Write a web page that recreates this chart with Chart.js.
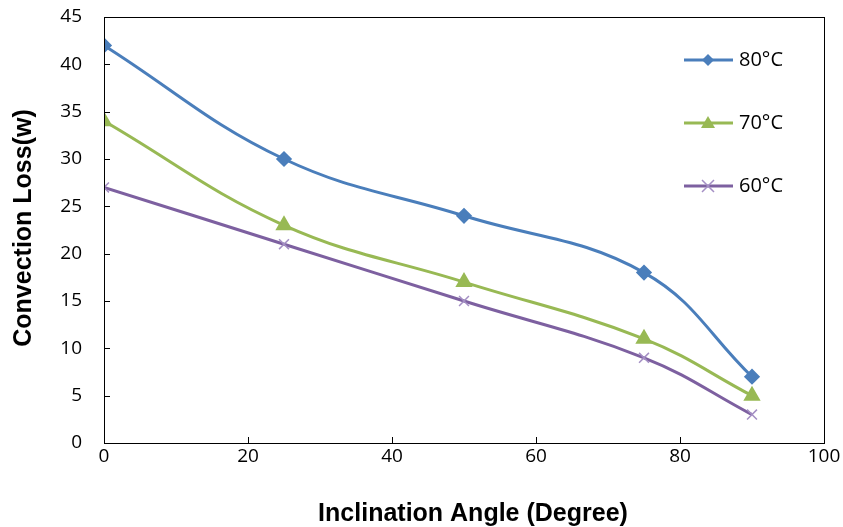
<!DOCTYPE html>
<html>
<head>
<meta charset="utf-8">
<script src="https://cdn.jsdelivr.net/npm/chart.js@4"></script>
<style>
  html, body { margin: 0; padding: 0; background: #fff; }
  #wrap { width: 843px; height: 527px; }
</style>
</head>
<body>
<div id="wrap"><canvas id="grafico" width="843" height="527"></canvas></div>
<script>
const angulos = [0, 25, 50, 75, 90];
const perda80 = [42, 30, 24, 18, 7];
const perda70 = [34, 23, 17, 11, 5];
const perda60 = [27, 21, 15, 9, 3];
const rotulos = ['80°C', '70°C', '60°C'];
const ticksX = [0, 20, 40, 60, 80, 100];
const ticksY = [0, 5, 10, 15, 20, 25, 30, 35, 40, 45];
const tituloX = 'Inclination Angle (Degree)';
const tituloY = 'Convection Loss(w)';

const cores = ['#4a7ebb', '#98b954', '#7d60a0'];
const fonteTick = { family: "'Open Sans', 'Noto Sans', sans-serif", size: 19 };

function pontos(ys) {
    return angulos.map((x, i) => ({ x: x, y: ys[i] }));
}

// desenha marcador simples (legenda)
function marcador(ctx, tipo, x, y, cor) {
    ctx.save();
    ctx.fillStyle = cor;
    ctx.strokeStyle = cor;
    ctx.beginPath();
    if (tipo === 'rectRot') {
        ctx.moveTo(x, y - 6); ctx.lineTo(x + 6, y); ctx.lineTo(x, y + 6); ctx.lineTo(x - 6, y);
        ctx.closePath(); ctx.fill();
    } else if (tipo === 'triangle') {
        ctx.moveTo(x, y - 7); ctx.lineTo(x + 7, y + 5); ctx.lineTo(x - 7, y + 5);
        ctx.closePath(); ctx.fill();
    } else {
        ctx.lineWidth = 1.5;
        ctx.moveTo(x - 6, y - 6); ctx.lineTo(x + 6, y + 6);
        ctx.moveTo(x + 6, y - 6); ctx.lineTo(x - 6, y + 6);
        ctx.stroke();
    }
    ctx.restore();
}

const molduraPlugin = {
    id: 'moldura',
    afterDraw(chart) {
        const { ctx, chartArea: a, scales } = chart;
        ctx.save();
        ctx.strokeStyle = '#000';
        ctx.lineWidth = 1;
        ctx.strokeRect(a.left + 0.5, a.top + 0.5, a.right - a.left, a.bottom - a.top);
        ctx.beginPath();
        scales.x.ticks.forEach(t => {
            const px = Math.round(scales.x.getPixelForValue(t.value)) + 0.5;
            ctx.moveTo(px, a.bottom); ctx.lineTo(px, a.bottom - 6);
        });
        scales.y.ticks.forEach(t => {
            const py = Math.round(scales.y.getPixelForValue(t.value)) + 0.5;
            ctx.moveTo(a.left, py); ctx.lineTo(a.left + 6, py);
        });
        ctx.stroke();

        // titulos dos eixos
        ctx.fillStyle = '#000';
        ctx.textAlign = 'center';
        ctx.textBaseline = 'middle';
        ctx.font = "bold 25px 'Liberation Sans', Arial, sans-serif";
        ctx.fillText(tituloX, 473, 514);
        ctx.save();
        ctx.translate(24, 228);
        ctx.rotate(-Math.PI / 2);
        ctx.font = "bold 25px 'Liberation Sans', Arial, sans-serif";
        ctx.fillText(tituloY, 0, 0);
        ctx.restore();

        // legenda dentro da área
        const tipos = ['rectRot', 'triangle', 'crossRot'];
        const ys = [60, 123, 186];
        ctx.font = "20px 'Open Sans', 'Noto Sans', sans-serif";
        ctx.textAlign = 'left';
        chart.data.datasets.forEach((ds, i) => {
            ctx.strokeStyle = ds.borderColor;
            ctx.lineWidth = 3;
            ctx.beginPath();
            ctx.moveTo(684, ys[i]); ctx.lineTo(733, ys[i]);
            ctx.stroke();
            marcador(ctx, tipos[i], 708, ys[i], ds.pointBorderColor || ds.borderColor);
            ctx.fillStyle = '#000';
            ctx.fillText(ds.label, 739, ys[i]);
        });
        ctx.restore();
    }
};

const ctx = document.getElementById('grafico');
new Chart(ctx, {
    type: 'line',
    data: {
        datasets: [
            { label: rotulos[0], data: pontos(perda80), borderColor: cores[0], backgroundColor: cores[0],
              pointStyle: 'rectRot', pointRadius: 6, borderWidth: 3, tension: 0.4 },
            { label: rotulos[1], data: pontos(perda70), borderColor: cores[1], backgroundColor: cores[1],
              pointStyle: 'triangle', pointRadius: 7, borderWidth: 3, tension: 0.4 },
            { label: rotulos[2], data: pontos(perda60), borderColor: cores[2], backgroundColor: cores[2],
              pointBorderColor: '#a48fc4', pointBorderWidth: 1.5,
              pointStyle: 'crossRot', pointRadius: 7, borderWidth: 3, tension: 0.4 }
        ]
    },
    options: {
        responsive: false,
        animation: false,
        layout: { padding: { top: 17, right: 19, left: 0, bottom: 0 } },
        plugins: { legend: { display: false }, tooltip: { enabled: false } },
        scales: {
            x: {
                type: 'linear', min: 0, max: 100,
                afterBuildTicks: s => { s.ticks = ticksX.map(v => ({ value: v })); },
                afterFit: s => { s.height = 84; s.paddingLeft = 0; s.paddingRight = 0; },
                grid: { display: false, drawTicks: false },
                border: { display: false },
                ticks: { font: fonteTick, color: '#000', padding: 2, maxRotation: 0 }
            },
            y: {
                min: 0, max: 45,
                afterBuildTicks: s => { s.ticks = ticksY.map(v => ({ value: v })); },
                afterFit: s => { s.width = 104; s.paddingTop = 0; s.paddingBottom = 0; },
                grid: { display: false, drawTicks: false },
                border: { display: false },
                ticks: { font: fonteTick, color: '#000', padding: 22 }
            }
        }
    },
    plugins: [molduraPlugin]
});
</script>
</body>
</html>
